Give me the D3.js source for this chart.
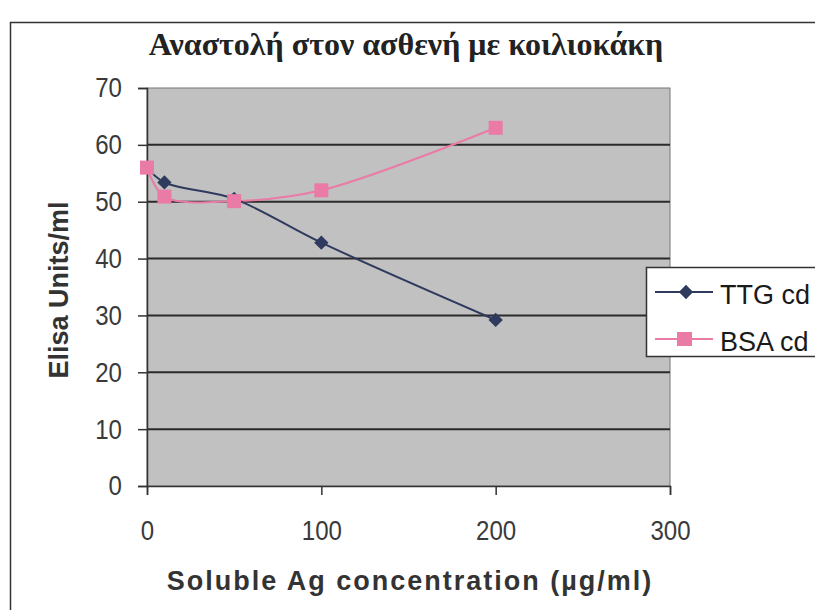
<!DOCTYPE html>
<html><head><meta charset="utf-8">
<script src="https://cdn.jsdelivr.net/npm/d3@7"></script>
<style>body{margin:0;background:#fff}svg{display:block}</style>
</head><body>
<svg id="c" width="815" height="610"></svg>
<script>
const xValues = [0, 10, 50, 100, 200];
const ttgValues = [56, 53.4, 50.5, 42.8, 29.2];
const bsaValues = [56, 50.9, 50.1, 52.0, 63.0];
const seriesNames = ["TTG cd", "BSA cd"];
const xTicks = [0, 100, 200, 300];
const yTicks = [0, 10, 20, 30, 40, 50, 60, 70];
const title = "Αναστολή στον ασθενή με κοιλιοκάκη";
const xTitle = "Soluble Ag concentration (µg/ml)";
const yTitle = "Elisa Units/ml";

const svg = d3.select("#c");
const L = 147, R = 670, T = 88, B = 486;
const x = d3.scaleLinear().domain([0, 300]).range([L, R]);
const y = d3.scaleLinear().domain([0, 70]).range([B, T]);
const sans = "'Liberation Sans',Arial,sans-serif";
const sx = 0.86;

// outer frame
svg.append("rect").attr("x", 10.5).attr("y", 22.5).attr("width", 820).attr("height", 600)
  .attr("fill", "#fff").attr("stroke", "#333").attr("stroke-width", 1.5);

// plot area
svg.append("rect").attr("x", L).attr("y", T).attr("width", R - L).attr("height", B - T)
  .attr("fill", "#c1c1c1").attr("stroke", "#777").attr("stroke-width", 1);

// gridlines
svg.append("g").selectAll("line").data(yTicks.filter(d => d > 0 && d < 70)).join("line")
  .attr("x1", L).attr("x2", R).attr("y1", d => y(d)).attr("y2", d => y(d))
  .attr("stroke", "#2a2a2a").attr("stroke-width", 2);

// axes
const yAxis = svg.append("g").attr("transform", `translate(${L},0)`)
  .call(d3.axisLeft(y).tickValues(yTicks).tickSize(9).tickPadding(16));
const xAxis = svg.append("g").attr("transform", `translate(0,${B})`)
  .call(d3.axisBottom(x).tickValues(xTicks).tickSize(9).tickPadding(25));
[yAxis, xAxis].forEach(g => {
  g.select(".domain").attr("stroke", "#333").attr("stroke-width", 1.5);
  g.selectAll(".tick line").attr("stroke", "#333").attr("stroke-width", 1.5);
  g.selectAll(".tick text").attr("fill", "#3a3a3a").style("font-family", sans).style("font-size", "28px");
});
// condense tick labels horizontally (narrow face look)
yAxis.selectAll(".tick text").each(function () {
  const t = d3.select(this);
  const xx = +t.attr("x");
  t.attr("x", xx / sx).attr("transform", `scale(${sx},1)`);
});
xAxis.selectAll(".tick text").attr("transform", `scale(${sx},1)`);

// lines
const pts = vals => xValues.map((d, i) => [x(d), y(vals[i])]);
const line = d3.line().curve(d3.curveCatmullRom.alpha(0.5));
const colors = ["#2e3a5e", "#ea7aa6"];

svg.append("path").attr("d", line(pts(bsaValues))).attr("fill", "none")
  .attr("stroke", colors[1]).attr("stroke-width", 2);
svg.append("path").attr("d", line(pts(ttgValues))).attr("fill", "none")
  .attr("stroke", colors[0]).attr("stroke-width", 2);

const diamond = d3.symbol().type(d3.symbolDiamond2).size(130);
svg.append("g").selectAll("path").data(pts(ttgValues).slice(1)).join("path")
  .attr("d", diamond).attr("transform", d => `translate(${d[0]},${d[1]})`)
  .attr("fill", colors[0]);
svg.append("g").selectAll("rect").data(pts(bsaValues)).join("rect")
  .attr("x", d => d[0] - 7).attr("y", d => d[1] - 7).attr("width", 14).attr("height", 14)
  .attr("fill", colors[1]);

// title
svg.append("text").attr("x", 406).attr("y", 55).attr("text-anchor", "middle")
  .style("font-family", "'Liberation Serif','Times New Roman',serif").style("font-weight", "bold")
  .style("font-size", "32px").attr("fill", "#222").text(title);

// axis titles
svg.append("text").attr("x", 410).attr("y", 590).attr("text-anchor", "middle")
  .style("font-family", sans).style("font-weight", "bold")
  .style("font-size", "27px").style("letter-spacing", "2px").attr("fill", "#333").text(xTitle);
svg.append("text").attr("transform", "translate(68,290) rotate(-90)").attr("text-anchor", "middle")
  .style("font-family", sans).style("font-weight", "bold")
  .style("font-size", "27px").attr("fill", "#333").text(yTitle);

// legend
const lg = svg.append("g");
lg.append("rect").attr("x", 646.5).attr("y", 267.5).attr("width", 200).attr("height", 89)
  .attr("fill", "#fff").attr("stroke", "#333").attr("stroke-width", 1.5);
const ly = [292, 339];
seriesNames.forEach((n, i) => {
  lg.append("line").attr("x1", 655).attr("x2", 713).attr("y1", ly[i]).attr("y2", ly[i])
    .attr("stroke", colors[i]).attr("stroke-width", 2);
  if (i === 0) lg.append("path").attr("d", diamond).attr("transform", `translate(686,${ly[i]})`).attr("fill", colors[0]);
  else lg.append("rect").attr("x", 677).attr("y", ly[i] - 7).attr("width", 15).attr("height", 14).attr("fill", colors[1]);
  lg.append("text").attr("x", 720).attr("y", ly[i] + 3).attr("dy", "0.35em").style("font-family", sans)
    .style("font-size", "27px").attr("fill", "#1a1a1a").text(n);
});
</script>
</body></html>
